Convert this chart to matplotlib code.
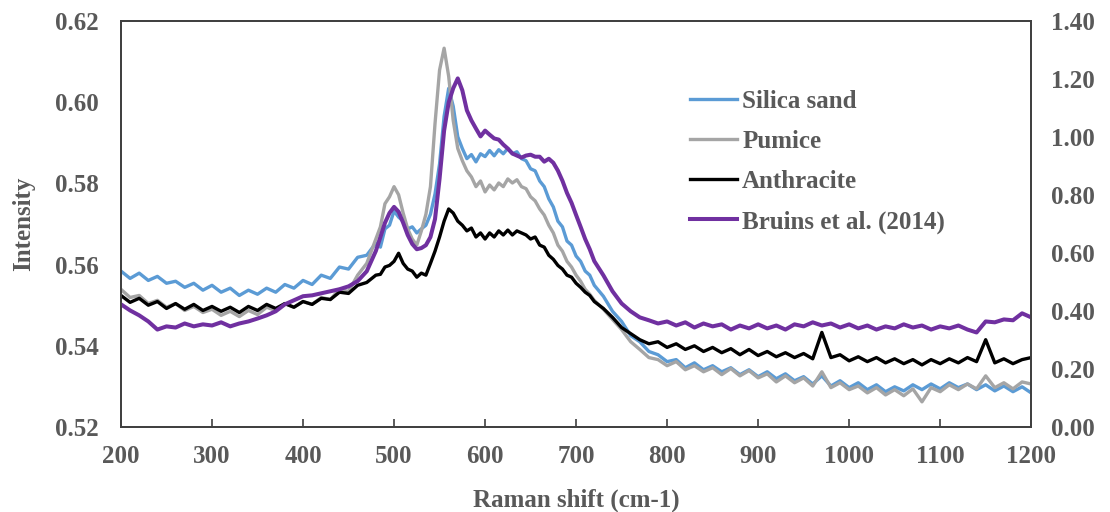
import matplotlib
matplotlib.use("Agg")
import matplotlib.pyplot as plt
from matplotlib.ticker import FormatStrFormatter, MultipleLocator

plt.rcParams['font.family'] = ['Liberation Serif', 'DejaVu Serif']
plt.rcParams['font.weight'] = 'bold'
plt.rcParams['axes.labelweight'] = 'bold'

# Raman shift grid (cm-1)
shift = ([200, 210, 220, 230, 240, 250, 260, 270, 280, 290, 300, 310, 320, 330, 340,
          350, 360, 370, 380, 390, 400, 410, 420, 430, 440, 450, 460, 470, 480]
         + [485, 490, 495, 500, 505, 510, 515, 520, 525, 530, 535, 540, 545, 550, 555,
            560, 565, 570, 575, 580, 585, 590, 595, 600, 605, 610, 615, 620, 625, 630,
            635, 640, 645, 650, 655, 660, 665, 670, 675, 680, 685, 690, 695, 700, 705,
            710, 715, 720]
         + [730, 740, 750, 760, 770, 780, 790, 800, 810, 820, 830, 840, 850, 860, 870,
            880, 890, 900, 910, 920, 930, 940, 950, 960, 970, 980, 990, 1000, 1010, 1020,
            1030, 1040, 1050, 1060, 1070, 1080, 1090, 1100, 1110, 1120, 1130, 1140, 1150,
            1160, 1170, 1180, 1190, 1200])

silica = [0.5584, 0.5566, 0.5579, 0.5561, 0.5571, 0.5554, 0.5559, 0.5544, 0.5554, 0.5537,
          0.5549, 0.5532, 0.5542, 0.5524, 0.5537, 0.5527, 0.5542, 0.5532, 0.5551, 0.5542,
          0.5561, 0.5551, 0.5574, 0.5566, 0.5594, 0.5589, 0.5618, 0.5623, 0.5653,
          0.5643, 0.5688, 0.5697, 0.5732, 0.5717, 0.5707, 0.5688, 0.5693, 0.5678, 0.5688,
          0.5697, 0.5724, 0.5774, 0.5848, 0.5965, 0.6034, 0.5990, 0.5915, 0.5886, 0.5861,
          0.5871, 0.5853, 0.5873, 0.5866, 0.5881, 0.5868, 0.5883, 0.5873, 0.5886, 0.5873,
          0.5878, 0.5861, 0.5856, 0.5836, 0.5831, 0.5806, 0.5792, 0.5762, 0.5742, 0.5707,
          0.5693, 0.5658, 0.5648, 0.5621, 0.5608, 0.5584, 0.5574, 0.5549,
          0.5522, 0.5485, 0.5460, 0.5425, 0.5410, 0.5386, 0.5378, 0.5361, 0.5366, 0.5346,
          0.5358, 0.5341, 0.5351, 0.5336, 0.5346, 0.5329, 0.5341, 0.5324, 0.5336, 0.5319,
          0.5331, 0.5314, 0.5324, 0.5306, 0.5326, 0.5301, 0.5314, 0.5297, 0.5309, 0.5292,
          0.5304, 0.5287, 0.5299, 0.5289, 0.5304, 0.5292, 0.5306, 0.5294, 0.5309, 0.5297,
          0.5306, 0.5292, 0.5304, 0.5289, 0.5301, 0.5287, 0.5299, 0.5284]

pumice = [0.5539, 0.5519, 0.5524, 0.5504, 0.5512, 0.5495, 0.5504, 0.5487, 0.5497, 0.5482,
          0.5490, 0.5475, 0.5485, 0.5472, 0.5487, 0.5477, 0.5495, 0.5487, 0.5504, 0.5495,
          0.5509, 0.5502, 0.5519, 0.5514, 0.5539, 0.5534, 0.5574, 0.5603, 0.5663,
          0.5693, 0.5750, 0.5767, 0.5792, 0.5772, 0.5727, 0.5688, 0.5663, 0.5648, 0.5683,
          0.5724, 0.5792, 0.5947, 0.6079, 0.6133, 0.6064, 0.5955, 0.5886, 0.5856, 0.5831,
          0.5816, 0.5792, 0.5806, 0.5779, 0.5796, 0.5784, 0.5801, 0.5792, 0.5811, 0.5801,
          0.5809, 0.5792, 0.5787, 0.5767, 0.5757, 0.5737, 0.5722, 0.5697, 0.5678, 0.5648,
          0.5633, 0.5608, 0.5594, 0.5574, 0.5559, 0.5539, 0.5527, 0.5512,
          0.5490, 0.5465, 0.5440, 0.5410, 0.5391, 0.5371, 0.5366, 0.5351, 0.5361, 0.5341,
          0.5351, 0.5336, 0.5346, 0.5329, 0.5344, 0.5326, 0.5339, 0.5321, 0.5331, 0.5311,
          0.5326, 0.5309, 0.5321, 0.5301, 0.5336, 0.5297, 0.5309, 0.5292, 0.5301, 0.5284,
          0.5297, 0.5279, 0.5292, 0.5277, 0.5294, 0.5262, 0.5297, 0.5287, 0.5304, 0.5292,
          0.5306, 0.5294, 0.5326, 0.5297, 0.5309, 0.5294, 0.5311, 0.5306]

anthracite = [0.5524, 0.5507, 0.5517, 0.5500, 0.5509, 0.5492, 0.5504, 0.5490, 0.5502, 0.5487,
              0.5497, 0.5485, 0.5495, 0.5482, 0.5497, 0.5487, 0.5502, 0.5492, 0.5504, 0.5495,
              0.5509, 0.5502, 0.5517, 0.5514, 0.5532, 0.5529, 0.5549, 0.5556, 0.5574,
              0.5576, 0.5594, 0.5598, 0.5608, 0.5628, 0.5603, 0.5589, 0.5584, 0.5569, 0.5579,
              0.5574, 0.5603, 0.5633, 0.5668, 0.5707, 0.5737, 0.5727, 0.5707, 0.5697, 0.5683,
              0.5690, 0.5668, 0.5678, 0.5663, 0.5678, 0.5668, 0.5683, 0.5673, 0.5685, 0.5673,
              0.5683, 0.5678, 0.5673, 0.5663, 0.5668, 0.5648, 0.5643, 0.5623, 0.5613, 0.5598,
              0.5589, 0.5574, 0.5569, 0.5554, 0.5544, 0.5532, 0.5524, 0.5509,
              0.5492, 0.5470, 0.5445, 0.5430, 0.5415, 0.5405, 0.5410, 0.5396, 0.5405, 0.5391,
              0.5400, 0.5386, 0.5396, 0.5383, 0.5393, 0.5378, 0.5391, 0.5376, 0.5386, 0.5373,
              0.5383, 0.5371, 0.5381, 0.5368, 0.5433, 0.5371, 0.5378, 0.5363, 0.5373, 0.5361,
              0.5371, 0.5358, 0.5368, 0.5356, 0.5366, 0.5353, 0.5366, 0.5356, 0.5368, 0.5358,
              0.5371, 0.5361, 0.5415, 0.5358, 0.5368, 0.5356, 0.5366, 0.5371]

# Bruins et al. (2014) is on the right-hand axis
bruins = [0.423, 0.402, 0.385, 0.364, 0.336, 0.347, 0.343, 0.357, 0.347, 0.354,
          0.350, 0.361, 0.347, 0.357, 0.364, 0.374, 0.385, 0.399, 0.423, 0.437,
          0.451, 0.454, 0.461, 0.468, 0.475, 0.485, 0.503, 0.537, 0.607,
          0.655, 0.704, 0.738, 0.759, 0.742, 0.704, 0.662, 0.631, 0.613, 0.617,
          0.627, 0.655, 0.717, 0.856, 1.022, 1.119, 1.168, 1.202, 1.161, 1.092,
          1.057, 1.029, 1.002, 1.022, 1.008, 0.995, 0.991, 0.974, 0.960, 0.943,
          0.936, 0.929, 0.936, 0.939, 0.932, 0.932, 0.915, 0.925, 0.911, 0.884,
          0.849, 0.807, 0.773, 0.731, 0.690, 0.648, 0.613, 0.572,
          0.523, 0.468, 0.426, 0.399, 0.378, 0.368, 0.357, 0.364, 0.350, 0.361,
          0.343, 0.357, 0.347, 0.354, 0.336, 0.350, 0.340, 0.354, 0.340, 0.350,
          0.336, 0.354, 0.347, 0.361, 0.350, 0.357, 0.343, 0.354, 0.340, 0.350,
          0.336, 0.347, 0.340, 0.354, 0.343, 0.350, 0.336, 0.347, 0.340, 0.350,
          0.336, 0.326, 0.364, 0.361, 0.371, 0.368, 0.392, 0.378]

txt = '#595959'
fs = 18

fig, ax1 = plt.subplots(figsize=(11.1, 5.12), dpi=100)
fig.subplots_adjust(left=0.109, right=0.929, bottom=0.166, top=0.959)
ax2 = ax1.twinx()

l1, = ax1.plot(shift, silica, color='#5B9BD5', lw=2.4, label='Silica sand')
l2, = ax1.plot(shift, pumice, color='#A5A5A5', lw=2.4, label='Pumice')
l3, = ax1.plot(shift, anthracite, color='black', lw=2.4, label='Anthracite')
l4, = ax2.plot(shift, bruins, color='#7030A0', lw=2.9, label='Bruins et al. (2014)')

ax1.set_xlim(200, 1200)
ax1.set_ylim(0.52, 0.62)
ax2.set_ylim(0, 1.4)
ax1.xaxis.set_major_locator(MultipleLocator(100))
ax1.yaxis.set_major_locator(MultipleLocator(0.02))
ax2.yaxis.set_major_locator(MultipleLocator(0.2))
ax1.yaxis.set_major_formatter(FormatStrFormatter('%.2f'))
ax2.yaxis.set_major_formatter(FormatStrFormatter('%.2f'))

ax1.tick_params(axis='x', direction='in', length=6, width=1.2, color='#404040',
                labelsize=fs, labelcolor=txt, pad=13)
ax1.tick_params(axis='y', length=0, labelsize=fs, labelcolor=txt, pad=16)
ax2.tick_params(axis='y', length=0, labelsize=fs, labelcolor=txt, pad=14)

for ax in (ax1, ax2):
    for s in ax.spines.values():
        s.set_color('#404040')
        s.set_linewidth(1.3)

ax1.set_xlabel('Raman shift (cm-1)', fontsize=fs, color=txt, labelpad=15)
ax1.set_ylabel('Intensity', fontsize=fs, color=txt, labelpad=14)

ax2.legend(handles=[l1, l2, l3, l4], loc='upper left', bbox_to_anchor=(0.600, 0.885),
           frameon=False, fontsize=fs, labelcolor=txt, handlelength=1.9,
           handletextpad=0.2, labelspacing=0.68)

fig.savefig('out.png', dpi=100)
